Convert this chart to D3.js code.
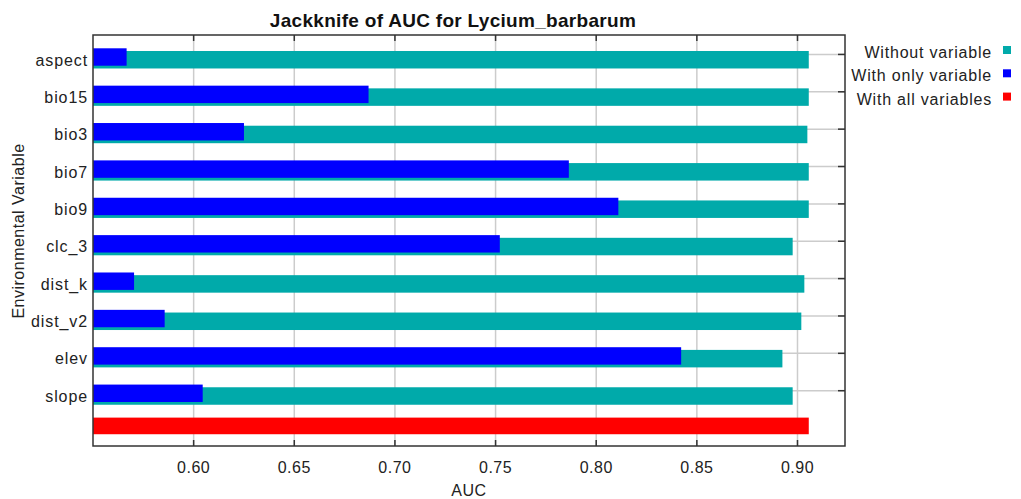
<!DOCTYPE html>
<html>
<head>
<meta charset="utf-8">
<script src="https://cdn.jsdelivr.net/npm/d3@7"></script>
<style>
  body { margin: 0; background: #fff; }
  svg { display: block; font-family: "Liberation Sans", Arial, sans-serif; }
</style>
</head>
<body>
<div id="chart"></div>
<script>
const variables = ["aspect", "bio15", "bio3", "bio7", "bio9", "clc_3", "dist_k", "dist_v2", "elev", "slope"];
const withoutVariable = [0.9056, 0.9056, 0.9049, 0.9056, 0.9056, 0.8976, 0.9034, 0.9019, 0.8925, 0.8976];
const withOnlyVariable = [0.5667, 0.6869, 0.6250, 0.7864, 0.8110, 0.7521, 0.5704, 0.5856, 0.8422, 0.6045];
const withAllVariables = 0.9056;
const xTicks = [0.60, 0.65, 0.70, 0.75, 0.80, 0.85, 0.90];
const xDomain = [0.55, 0.9236];
const legendItems = ["Without variable", "With only variable", "With all variables"];

const COLORS = { without: "#00aaaa", only: "#0000ff", all: "#ff0000", grid: "#cccccc", frame: "#333333", text: "#222222" };

const W = 1021, H = 499;
const plot = { left: 93, right: 845, top: 35, bottom: 446 };

const svg = d3.select("#chart").append("svg")
  .attr("width", W).attr("height", H);

const rows = [...variables, "__all__"];
const x = d3.scaleLinear().domain(xDomain).range([plot.left, plot.right]);
const y = d3.scaleBand().domain(rows).range([plot.top, plot.bottom]);
const bw = y.bandwidth();

// grid
const grid = svg.append("g");
grid.selectAll(".vgrid").data(xTicks).join("line")
  .attr("x1", d => x(d)).attr("x2", d => x(d))
  .attr("y1", plot.top).attr("y2", plot.bottom)
  .attr("stroke", COLORS.grid).attr("stroke-width", 1.5);
grid.selectAll(".hgrid").data(variables).join("line")
  .attr("x1", plot.left).attr("x2", plot.right)
  .attr("y1", d => y(d) + bw * 0.52).attr("y2", d => y(d) + bw * 0.52)
  .attr("stroke", COLORS.grid).attr("stroke-width", 1.5);

// bars
const bars = svg.append("g");
bars.selectAll(".without").data(variables).join("rect")
  .attr("x", x(xDomain[0]))
  .attr("y", d => y(d) + bw * 0.428)
  .attr("width", (d, i) => x(withoutVariable[i]) - x(xDomain[0]))
  .attr("height", bw * 0.468)
  .attr("fill", COLORS.without);
bars.selectAll(".only").data(variables).join("rect")
  .attr("x", x(xDomain[0]))
  .attr("y", d => y(d) + bw * 0.356)
  .attr("width", (d, i) => x(withOnlyVariable[i]) - x(xDomain[0]))
  .attr("height", bw * 0.466)
  .attr("fill", COLORS.only);
bars.append("rect")
  .attr("x", x(xDomain[0]))
  .attr("y", y("__all__") + bw * 0.24)
  .attr("width", x(withAllVariables) - x(xDomain[0]))
  .attr("height", bw * 0.445)
  .attr("fill", COLORS.all);

// frame and inward ticks
const frame = svg.append("g").attr("stroke", COLORS.frame).attr("stroke-width", 1.5);
frame.append("rect")
  .attr("x", plot.left).attr("y", plot.top)
  .attr("width", plot.right - plot.left).attr("height", plot.bottom - plot.top)
  .attr("fill", "none");
frame.selectAll(".ttick").data(xTicks).join("line")
  .attr("x1", d => x(d)).attr("x2", d => x(d))
  .attr("y1", plot.top).attr("y2", plot.top + 6);
frame.selectAll(".btick").data(xTicks).join("line")
  .attr("x1", d => x(d)).attr("x2", d => x(d))
  .attr("y1", plot.bottom).attr("y2", plot.bottom - 6);
frame.selectAll(".rtick").data(variables).join("line")
  .attr("x1", plot.right).attr("x2", plot.right - 7)
  .attr("y1", d => y(d) + bw * 0.52).attr("y2", d => y(d) + bw * 0.52);

// tick labels
svg.append("g").selectAll("text").data(xTicks).join("text")
  .attr("x", d => x(d)).attr("y", 473)
  .attr("text-anchor", "middle")
  .attr("font-size", 16).attr("letter-spacing", 0.5)
  .attr("fill", COLORS.text)
  .text(d3.format(".2f"));

svg.append("g").selectAll("text").data(variables).join("text")
  .attr("x", 88).attr("y", d => y(d) + 30.5)
  .attr("text-anchor", "end")
  .attr("font-size", 16).attr("letter-spacing", 0.9)
  .attr("fill", COLORS.text)
  .text(d => d);

// titles
svg.append("text")
  .attr("x", 453).attr("y", 27)
  .attr("text-anchor", "middle")
  .attr("font-size", 19).attr("font-weight", "bold").attr("letter-spacing", 0.3)
  .attr("fill", "#111")
  .text("Jackknife of AUC for Lycium_barbarum");

svg.append("text")
  .attr("x", (plot.left + plot.right) / 2).attr("y", 496)
  .attr("text-anchor", "middle")
  .attr("font-size", 16).attr("letter-spacing", 0.5)
  .attr("fill", COLORS.text)
  .text("AUC");

svg.append("text")
  .attr("transform", "translate(24,231) rotate(-90)")
  .attr("text-anchor", "middle")
  .attr("font-size", 16).attr("letter-spacing", 0.5)
  .attr("fill", COLORS.text)
  .text("Environmental Variable");

// legend
const legendColors = [COLORS.without, COLORS.only, COLORS.all];
const legend = svg.append("g");
legendItems.forEach((label, i) => {
  legend.append("text")
    .attr("x", 992).attr("y", 58 + i * 23.3)
    .attr("text-anchor", "end")
    .attr("font-size", 16).attr("letter-spacing", 0.8)
    .attr("fill", COLORS.text)
    .text(label);
  legend.append("rect")
    .attr("x", 1003).attr("y", 46 + i * 23.3)
    .attr("width", 8).attr("height", 8)
    .attr("fill", legendColors[i]);
});
</script>
</body>
</html>
